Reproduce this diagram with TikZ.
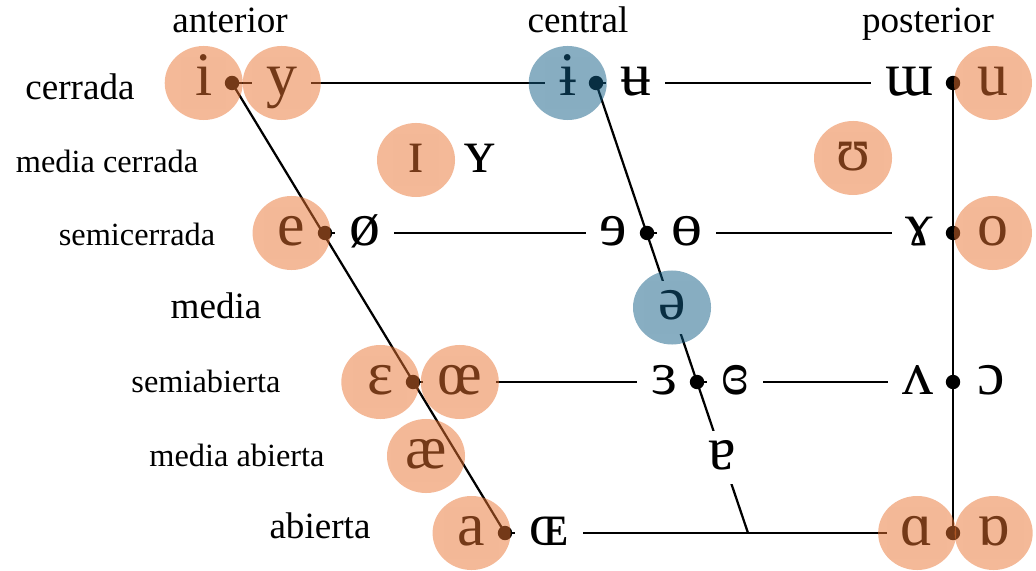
\documentclass[tikz,border=0pt]{standalone}
\usepackage{fontspec}
\setmainfont{Liberation Serif}
\usepackage{xcolor}
\usetikzlibrary{positioning, calc}

\definecolor{ringorange}{RGB}{233,115,49}
\definecolor{ringblue}{RGB}{17,93,133}

\begin{document}
\begin{tikzpicture}[
  x=0.0125cm, y=-0.0125cm,
  vow/.style={font=\fontsize{22}{24}\selectfont, fill=white, inner xsep=5pt,
              inner ysep=5pt, text height=8.6pt, text depth=0pt},
  big/.style={font=\fontsize{13.2}{15}\selectfont, anchor=base, inner sep=0pt},
  small/.style={font=\fontsize{11.5}{13}\selectfont, anchor=base, inner sep=0pt},
  frame/.style={line width=0.8pt},
  orng/.style={fill=ringorange, fill opacity=0.5},
  blu/.style={fill=ringblue, fill opacity=0.5}
]
  \useasboundingbox (0,0) rectangle (1036,570);

  % Chart points
  \coordinate (f1) at (232,83);
  \coordinate (f2) at (325,233);
  \coordinate (f3) at (413,382);
  \coordinate (f4) at (505,533);
  \coordinate (m1) at (596,83);
  \coordinate (m2) at (647,233);
  \coordinate (m3) at (697,382);
  \coordinate (m4) at (748,533);
  \coordinate (b1) at (953,83);
  \coordinate (b2) at (953,233);
  \coordinate (b3) at (953,382);
  \coordinate (b4) at (953,533);

  % Rows
  \draw[frame] (f1) -- (b1);
  \draw[frame] (f2) -- (b2);
  \draw[frame] (f3) -- (b3);
  \draw[frame] (f4) -- (b4);

  % Close
  \node[vow, left=1.8pt of f1]  (i)    {i};
  \node[vow, right=7pt of f1]   (y)    {y};
  \node[vow, left=1.8pt of m1]  (ibar) {ɨ};
  \node[vow, right=3.5pt of m1] (ubar) {ʉ};
  \node[vow, left=1.8pt of b1]  (wu)   {ɯ};
  \node[vow, right=3.5pt of b1] (u)    {u};

  % Near-close
  \node[vow] (ic) at (416,160) {ɪ};
  \node[vow] (yc) at (480,160) {ʏ};
  \node[vow] (uc) at (853,158) {ʊ};

  % Close-mid
  \node[vow, left=1.8pt of f2]  (e)    {e};
  \node[vow, right=3.5pt of f2] (oslash) {ø};
  \node[vow, left=1.8pt of m2]  (reve) {ɘ};
  \node[vow, right=3.5pt of m2] (obar) {ɵ};
  \node[vow, left=1.8pt of b2]  (gam)  {ɤ};
  \node[vow, right=3.5pt of b2] (o)    {o};

  % Open-mid
  \node[vow, left=1.8pt of f3]  (eps)  {ɛ};
  \node[vow, right=3.5pt of f3] (oe)   {œ};
  \node[vow, left=1.8pt of m3]  (reps) {ɜ};
  \node[vow, right=3.5pt of m3] (ceps) {ɞ};
  \node[vow, left=1.8pt of b3]  (vee)  {ʌ};
  \node[vow, right=3.5pt of b3] (oo)   {ɔ};

  % Near-open
  \node[vow] (ae) at (426,456) {æ};

  % Open
  \node[vow, left=1.8pt of f4]  (a)    {a};
  \node[vow, right=3.5pt of f4] (OE)   {ɶ};
  \node[vow, left=1.8pt of b4]  (alp)  {ɑ};
  \node[vow, right=3.5pt of b4] (talp) {ɒ};

  % Front, back and central lines
  \draw[frame] (f1) -- (f4);
  \draw[frame] (b1) -- (b4);
  \draw[frame] (m1) -- (m4);

  % Mid central
  \node[vow] (schwa) at ($(m2)!.5!(m3)$) {ə};
  \node[vow] (turna) at ($(m3)!.5!(m4)$) {ɐ};

  % Dots
  \foreach \p in {f1,f2,f3,f4,m1,m2,m3,b1,b2,b3,b4}
    \fill (\p) circle (0.09cm);

  % Rings
  \foreach \v in {i,y,e,eps,oe,ae,a,ic,uc,u,o,alp,talp}
    \fill[orng] (\v) ellipse (0.4875cm and 0.4625cm);
  \foreach \v in {ibar,schwa}
    \fill[blu] (\v) ellipse (0.4875cm and 0.4625cm);

  % Column labels
  \node[big] (ant) at (230,33) {anterior};
  \node[big] (cen) at (578,33) {central};
  \node[big] (pos) at (928,33) {posterior};

  % Row labels
  \node[big]   (l1) at (80,100)  {cerrada};
  \node[small] (l2) at (107,173) {media cerrada};
  \node[small] (l3) at (137,246) {semicerrada};
  \node[big]   (l4) at (216,318) {media};
  \node[small] (l5) at (206,392) {semiabierta};
  \node[small] (l6) at (237,466) {media abierta};
  \node[big]   (l7) at (320,538) {abierta};
\end{tikzpicture}
\end{document}
